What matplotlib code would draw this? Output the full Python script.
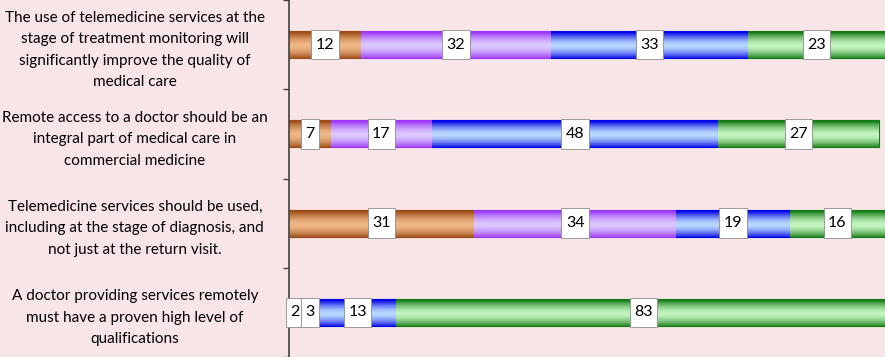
import numpy as np
import matplotlib.pyplot as plt
from matplotlib.colors import to_rgb
from matplotlib.path import Path

statements = [
    'The use of telemedicine services at the\nstage of treatment monitoring will\nsignificantly improve the quality of\nmedical care',
    'Remote access to a doctor should be an\nintegral part of medical care in\ncommercial medicine',
    'Telemedicine services should be used,\nincluding at the stage of diagnosis, and\nnot just at the return visit.',
    'A doctor providing services remotely\nmust have a proven high level of\nqualifications',
]
seg_orange = [12, 7, 31, 2]
seg_purple = [32, 17, 34, 3]
seg_blue = [33, 48, 19, 13]
seg_green = [23, 27, 16, 83]

series = [seg_orange, seg_purple, seg_blue, seg_green]
# (edge/dark colour, highlight colour)
shades = [('#9c4a14', '#f0b888'),
          ('#9a35f5', '#dcc8ff'),
          ('#0000e6', '#b8d8ff'),
          ('#137a13', '#c4f5c0')]

bg = '#f8e5e7'
plt.rcParams['font.family'] = ['Lato', 'DejaVu Sans']

fig = plt.figure(figsize=(8.85, 3.57), dpi=100, facecolor=bg)
ax = fig.add_axes([289 / 885, 0, 1 - 289 / 885, 1], facecolor=bg)

ypos = np.arange(len(statements))
left = np.zeros(len(statements))


def gradient(dark, light, n=64):
    t = np.linspace(0, 1, n)
    f = 1 - np.abs(2 * t - 1.08) ** 1.6
    f = np.clip(f, 0, 1)[:, None]
    d = np.array(to_rgb(dark))
    l = np.array(to_rgb(light))
    return (d * (1 - f) + l * f)[:, None, :]


def label_box(x0, y0, width, height, mutation_size):
    # narrow at the sides, tall like the bar
    px = 0.28 * mutation_size
    py = 0.48 * mutation_size
    xa, ya = x0 - px, y0 - py
    xb, yb = x0 + width + px, y0 + height + py
    return Path([(xa, ya), (xb, ya), (xb, yb), (xa, yb), (xa, ya)], closed=True)


for k, (vals, (dark, light)) in enumerate(zip(series, shades)):
    vals = np.array(vals)
    bars = ax.barh(ypos, vals, left=left, height=0.3, color=dark,
                   edgecolor=dark, linewidth=0.8, zorder=2)
    img = gradient(dark, light)
    for p in bars.patches:
        x0, y0 = p.get_x(), p.get_y()
        im = ax.imshow(img, extent=[x0, x0 + p.get_width(), y0 + p.get_height(), y0],
                       aspect='auto', zorder=2.1, interpolation='bilinear')
        im.set_clip_path(p)
    for y, l0, v in zip(ypos, left, vals):
        ax.text(l0 + v / 2, y, str(v), ha='center', va='center', fontsize=11.5,
                zorder=5 + k,
                bbox=dict(boxstyle=label_box, fc='white', ec='#8c8c8c', lw=0.6))
    left = left + vals

ax.set_xlim(0, 100)
ax.set_ylim(3.5, -0.5)

ax.set_yticks(ypos)
ax.set_yticklabels(statements, fontsize=11, ha='center', multialignment='center',
                   linespacing=1.68)
ax.set_yticks(np.arange(-0.5, 4, 1), minor=True)
ax.tick_params(axis='y', which='major', length=0, pad=111)
ax.tick_params(axis='y', which='minor', length=4, width=1, color='#404040', direction='out')
ax.set_xticks([])

for s in ['top', 'right', 'bottom']:
    ax.spines[s].set_visible(False)
ax.spines['left'].set_color('#404040')
ax.spines['left'].set_linewidth(1.2)

fig.savefig('out.png', dpi=100, facecolor=bg)
